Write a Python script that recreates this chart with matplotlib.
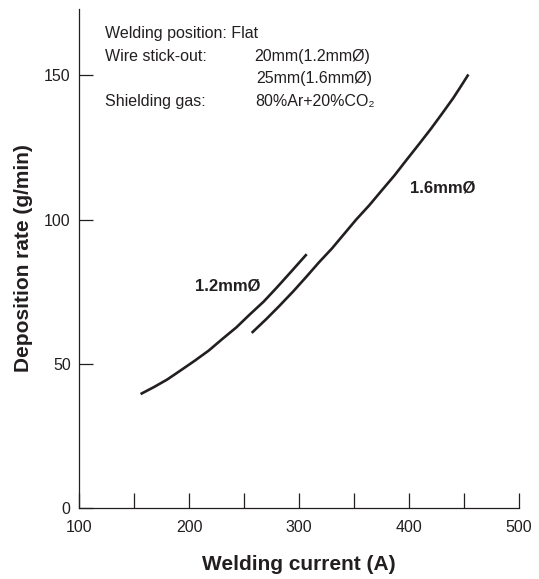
import matplotlib
matplotlib.use("Agg")
import matplotlib.pyplot as plt

plt.rcParams['font.family'] = ['Liberation Sans', 'DejaVu Sans']

# data
cur_12 = [156, 168, 180, 192, 205, 218, 230, 243, 255, 268, 280, 293, 307]
dep_12 = [39.5, 41.9, 44.5, 47.6, 51, 54.6, 58.5, 62.6, 67, 71.6, 76.5, 82, 88]

cur_16 = [257, 270, 282, 295, 307, 318, 330, 341, 352, 364, 375, 387, 398, 409, 420, 430, 440, 447, 454]
dep_16 = [60.7, 65.4, 70, 75.2, 80.3, 85.1, 90, 95, 100, 105, 110, 115.4, 120.8, 126.1, 131.5, 136.7, 142, 146.1, 150.3]

x_ticks = [100, 150, 200, 250, 300, 350, 400, 450, 500]
x_labels = ['100', '', '200', '', '300', '', '400', '', '500']
y_ticks = [0, 50, 100, 150]

ink = '#231f20'

fig = plt.figure(figsize=(5.39, 5.79), dpi=100)
ax = fig.add_axes([79/539, 1 - 508/579, 440/539, 499/579])

ax.plot(cur_12, dep_12, color=ink, lw=1.9, solid_capstyle='butt')
ax.plot(cur_16, dep_16, color=ink, lw=1.9, solid_capstyle='butt')

ax.set_xlim(100, 500)
ax.set_ylim(0, 173)
ax.spines['top'].set_visible(False)
ax.spines['right'].set_visible(False)
for s in ['left', 'bottom']:
    ax.spines[s].set_color(ink)
    ax.spines[s].set_linewidth(0.9)

ax.set_xticks(x_ticks)
ax.set_xticklabels(x_labels)
ax.set_yticks(y_ticks)
ax.tick_params(axis='x', direction='in', length=11, width=0.9, pad=9, labelsize=11.5,
               color=ink, labelcolor=ink)
ax.tick_params(axis='y', direction='in', length=10, width=0.9, pad=6, labelsize=11.5,
               color=ink, labelcolor=ink)

ax.set_xlabel('Welding current (A)', fontsize=15, fontweight='bold', color=ink, labelpad=14)
ax.set_ylabel('Deposition rate (g/min)', fontsize=15, fontweight='bold', color=ink, labelpad=8)

# condition notes
fs = 11.5
ax.text(123.6, 162.8, 'Welding position: Flat', fontsize=fs, color=ink)
ax.text(123.6, 154.9, 'Wire stick-out:', fontsize=fs, color=ink)
ax.text(259.5, 154.9, '20mm(1.2mmØ)', fontsize=fs, color=ink)
ax.text(261.5, 147.2, '25mm(1.6mmØ)', fontsize=fs, color=ink)
ax.text(123.6, 139.2, 'Shielding gas:', fontsize=fs, color=ink)
ax.text(260, 139.2, '80%Ar+20%CO₂', fontsize=fs, color=ink)

ax.text(235, 77, '1.2mmØ', fontsize=12, fontweight='bold', color=ink, ha='center', va='center')
ax.text(430.5, 110.8, '1.6mmØ', fontsize=12, fontweight='bold', color=ink, ha='center', va='center')

fig.savefig('out.png', dpi=100)
